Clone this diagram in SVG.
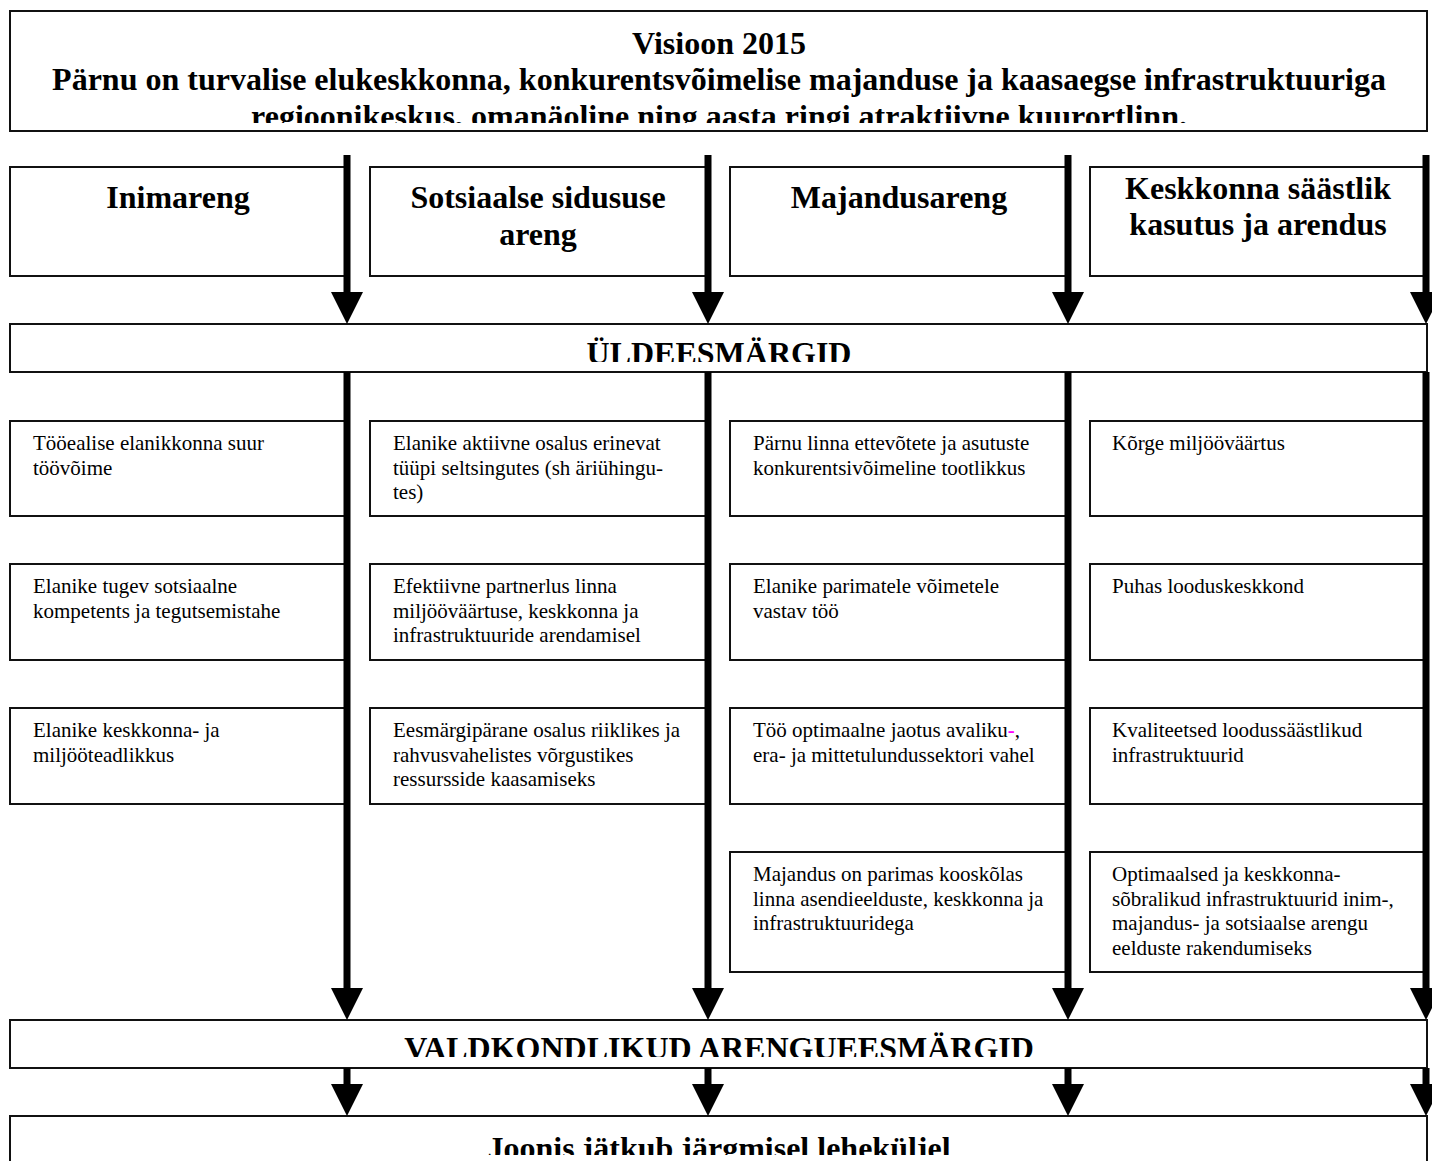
<svg xmlns="http://www.w3.org/2000/svg" width="1432" height="1161" viewBox="0 0 1432 1161">
<style>
.box{fill:#fff;stroke:#111;stroke-width:2}
.h{font-family:"Liberation Serif","Times New Roman",serif;font-weight:bold;font-size:32px;text-anchor:middle;fill:#000}
.t{font-family:"Liberation Serif","Times New Roman",serif;font-size:21px;fill:#000}
.conn{stroke:#000;stroke-width:7;fill:none;marker-end:url(#ah)}
</style>
<defs>
<marker id="ah" markerUnits="userSpaceOnUse" markerWidth="32" markerHeight="32" viewBox="0 -16 32 32" refX="0" refY="0" orient="auto">
<path d="M0,-16 L32,0 L0,16 Z" fill="#000"/>
</marker>
<clipPath id="c1"><rect x="10" y="11" width="1417" height="112"/></clipPath>
<clipPath id="c2"><rect x="10" y="324" width="1417" height="38"/></clipPath>
<clipPath id="c3"><rect x="10" y="1020" width="1417" height="37"/></clipPath>
<clipPath id="c4"><rect x="10" y="1116" width="1417" height="39"/></clipPath>
</defs>
<rect width="1432" height="1161" fill="#fff"/>

<g id="visioon">
<rect class="box" x="10" y="11" width="1417" height="120"/>
<g clip-path="url(#c1)">
<text class="h" x="719" y="54">Visioon 2015</text>
<text class="h" x="719" y="90">Pärnu on turvalise elukeskkonna, konkurentsvõimelise majanduse ja kaasaegse infrastruktuuriga</text>
<text class="h" x="719" y="127">regioonikeskus, omanäoline ning aasta ringi atraktiivne kuurortlinn.</text>
</g>
</g>

<g id="h1"><rect class="box" x="10" y="167" width="336" height="109"/><text class="h" x="178" y="208">Inimareng</text></g>
<g id="h2"><rect class="box" x="370" y="167" width="336" height="109"/><text class="h" x="538" y="208">Sotsiaalse sidususe</text><text class="h" x="538" y="245">areng</text></g>
<g id="h3"><rect class="box" x="730" y="167" width="336" height="109"/><text class="h" x="899" y="208">Majandusareng</text></g>
<g id="h4"><rect class="box" x="1090" y="167" width="335" height="109"/><text class="h" x="1258" y="199">Keskkonna säästlik</text><text class="h" x="1258" y="235">kasutus ja arendus</text></g>

<g id="uld">
<rect class="box" x="10" y="324" width="1417" height="48"/>
<g clip-path="url(#c2)"><text class="h" x="719" y="364">ÜLDEESMÄRGID</text></g>
</g>

<g id="c1r1"><rect class="box" x="10" y="421" width="336" height="95"/><text class="t" x="33" y="450">Tööealise elanikkonna suur</text><text class="t" x="33" y="474.5">töövõime</text></g>
<g id="c1r2"><rect class="box" x="10" y="564" width="336" height="96"/><text class="t" x="33" y="593">Elanike tugev sotsiaalne</text><text class="t" x="33" y="617.5">kompetents ja tegutsemistahe</text></g>
<g id="c1r3"><rect class="box" x="10" y="708" width="336" height="96"/><text class="t" x="33" y="737">Elanike keskkonna- ja</text><text class="t" x="33" y="761.5">miljööteadlikkus</text></g>

<g id="c2r1"><rect class="box" x="370" y="421" width="336" height="95"/><text class="t" x="393" y="450">Elanike aktiivne osalus erinevat</text><text class="t" x="393" y="474.5">tüüpi seltsingutes (sh äriühingu-</text><text class="t" x="393" y="499">tes)</text></g>
<g id="c2r2"><rect class="box" x="370" y="564" width="336" height="96"/><text class="t" x="393" y="593">Efektiivne partnerlus linna</text><text class="t" x="393" y="617.5">miljööväärtuse, keskkonna ja</text><text class="t" x="393" y="642">infrastruktuuride arendamisel</text></g>
<g id="c2r3"><rect class="box" x="370" y="708" width="336" height="96"/><text class="t" x="393" y="737">Eesmärgipärane osalus riiklikes ja</text><text class="t" x="393" y="761.5">rahvusvahelistes võrgustikes</text><text class="t" x="393" y="786">ressursside kaasamiseks</text></g>

<g id="c3r1"><rect class="box" x="730" y="421" width="336" height="95"/><text class="t" x="753" y="450">Pärnu linna ettevõtete ja asutuste</text><text class="t" x="753" y="474.5">konkurentsivõimeline tootlikkus</text></g>
<g id="c3r2"><rect class="box" x="730" y="564" width="336" height="96"/><text class="t" x="753" y="593">Elanike parimatele võimetele</text><text class="t" x="753" y="617.5">vastav töö</text></g>
<g id="c3r3"><rect class="box" x="730" y="708" width="336" height="96"/><text class="t" x="753" y="737">Töö optimaalne jaotus avaliku<tspan fill="#ff00ff" font-weight="bold">-</tspan>,</text><text class="t" x="753" y="761.5">era- ja mittetulundussektori vahel</text></g>
<g id="c3r4"><rect class="box" x="730" y="852" width="336" height="120"/><text class="t" x="753" y="881">Majandus on parimas kooskõlas</text><text class="t" x="753" y="905.5">linna asendieelduste, keskkonna ja</text><text class="t" x="753" y="930">infrastruktuuridega</text></g>

<g id="c4r1"><rect class="box" x="1090" y="421" width="335" height="95"/><text class="t" x="1112" y="450">Kõrge miljööväärtus</text></g>
<g id="c4r2"><rect class="box" x="1090" y="564" width="335" height="96"/><text class="t" x="1112" y="593">Puhas looduskeskkond</text></g>
<g id="c4r3"><rect class="box" x="1090" y="708" width="335" height="96"/><text class="t" x="1112" y="737">Kvaliteetsed loodussäästlikud</text><text class="t" x="1112" y="761.5">infrastruktuurid</text></g>
<g id="c4r4"><rect class="box" x="1090" y="852" width="335" height="120"/><text class="t" x="1112" y="881">Optimaalsed ja keskkonna-</text><text class="t" x="1112" y="905.5">sõbralikud infrastruktuurid inim-,</text><text class="t" x="1112" y="930">majandus- ja sotsiaalse arengu</text><text class="t" x="1112" y="954.5">eelduste rakendumiseks</text></g>

<g id="valdk">
<rect class="box" x="10" y="1020" width="1417" height="48"/>
<g clip-path="url(#c3)"><text class="h" x="719" y="1059">VALDKONDLIKUD ARENGUEESMÄRGID</text></g>
</g>

<g id="joonis">
<rect class="box" x="10" y="1116" width="1417" height="60"/>
<g clip-path="url(#c4)"><text class="h" x="719" y="1159">Joonis jätkub järgmisel leheküljel</text></g>
</g>

<g id="connectors">
<line class="conn" x1="347" y1="155" x2="347" y2="292"/>
<line class="conn" x1="708" y1="155" x2="708" y2="292"/>
<line class="conn" x1="1068" y1="155" x2="1068" y2="292"/>
<line class="conn" x1="1426" y1="155" x2="1426" y2="292"/>
<line class="conn" x1="347" y1="372" x2="347" y2="988"/>
<line class="conn" x1="708" y1="372" x2="708" y2="988"/>
<line class="conn" x1="1068" y1="372" x2="1068" y2="988"/>
<line class="conn" x1="1426" y1="372" x2="1426" y2="988"/>
<line class="conn" x1="347" y1="1068" x2="347" y2="1084"/>
<line class="conn" x1="708" y1="1068" x2="708" y2="1084"/>
<line class="conn" x1="1068" y1="1068" x2="1068" y2="1084"/>
<line class="conn" x1="1426" y1="1068" x2="1426" y2="1084"/>
</g>
</svg>
